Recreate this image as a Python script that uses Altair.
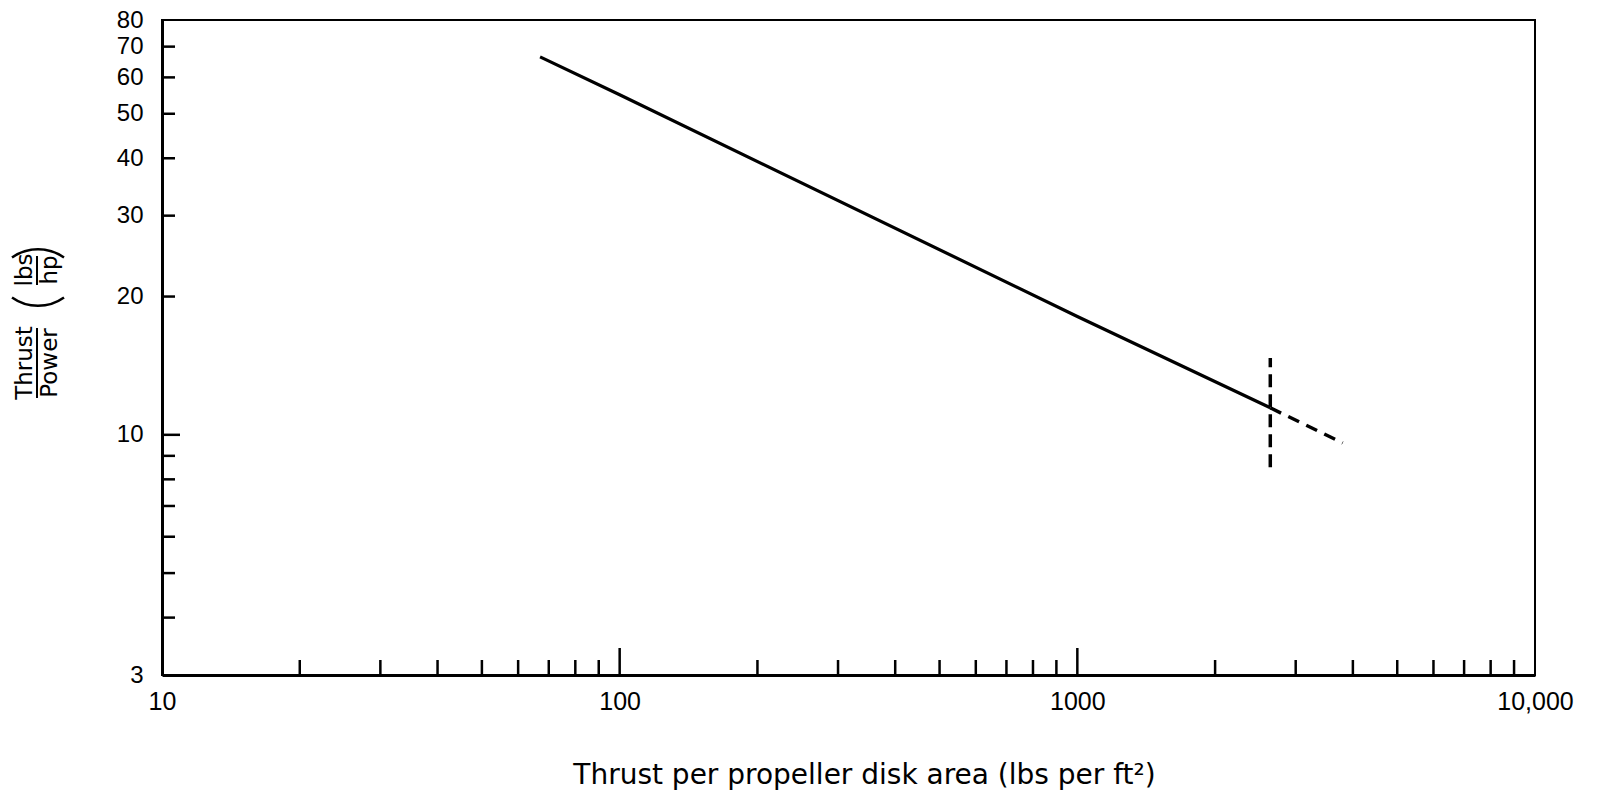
import math
import altair as alt
import pandas as pd

# ---- data ----
solid_x = [67, 100, 1000, 2640]
solid_y = [66.5, 55.0, 18.1, 11.45]
dash_x = [2640, 3800]
dash_y = [11.45, 9.6]
limit_x = 2640
limit_y = [8.5, 14.7]

x_label_values = [10, 100, 1000, 10000]
y_label_values = [3, 10, 20, 30, 40, 50, 60, 70, 80]
x_major_ticks = [100, 1000]
x_minor_ticks = [20, 30, 40, 50, 60, 70, 80, 90,
                 200, 300, 400, 500, 600, 700, 800, 900,
                 2000, 3000, 4000, 5000, 6000, 7000, 8000, 9000]
y_major_ticks = [10]
y_minor_ticks = [4, 5, 6, 7, 8, 9, 20, 30, 40, 50, 60, 70]

x_title = "Thrust per propeller disk area (lbs per ft²)"

W, H = 1373, 655
LABEL_FONT = "Liberation Sans"
TEXT_FONT = "DejaVu Sans"

xscale = alt.Scale(type="log", domain=[10, 10000], nice=False)
yscale = alt.Scale(type="log", domain=[3, 80], nice=False)

x_axis = alt.Axis(
    values=x_label_values,
    labelExpr="datum.value == 10000 ? '10,000' : format(datum.value, 'd')",
    title=x_title, ticks=False, tickSize=0, grid=False,
    domainColor="black", domainWidth=3,
    labelFont=LABEL_FONT, labelFontSize=25, labelColor="black",
    labelPadding=14, labelFlush=False, labelOverlap=False,
    titleFont=TEXT_FONT, titleFontSize=28, titleColor="black",
    titleFontWeight="normal", titleX=702, titleY=108,
    titleAlign="center", titleBaseline="alphabetic",
)
y_axis = alt.Axis(
    values=y_label_values, format="d", title=None,
    ticks=False, tickSize=0, grid=False,
    domainColor="black", domainWidth=3,
    labelFont=LABEL_FONT, labelFontSize=24, labelColor="black",
    labelPadding=19, labelFlush=False, labelOverlap=False,
)

X = alt.X("x:Q", scale=xscale, axis=x_axis)
Y = alt.Y("y:Q", scale=yscale, axis=y_axis)

solid = alt.Chart(pd.DataFrame({"x": solid_x, "y": solid_y})).mark_line(
    color="black", strokeWidth=3.2).encode(x=X, y=Y)
dash = alt.Chart(pd.DataFrame({"x": dash_x, "y": dash_y})).mark_line(
    color="black", strokeWidth=3.5, strokeDash=[12, 8]).encode(x=X, y=Y)
limit = alt.Chart(pd.DataFrame({"x": [limit_x] * len(limit_y), "y": limit_y})).mark_line(
    color="black", strokeWidth=3.5, strokeDash=[13, 7]).encode(x=X, y=Y, order="y:Q")

xt_minor = alt.Chart(pd.DataFrame({"x": x_minor_ticks})).mark_rule(
    color="black", strokeWidth=2.5).encode(x=X, y=alt.value(H), y2=alt.value(H - 15))
xt_major = alt.Chart(pd.DataFrame({"x": x_major_ticks})).mark_rule(
    color="black", strokeWidth=2.5).encode(x=X, y=alt.value(H), y2=alt.value(H - 27))
yt_minor = alt.Chart(pd.DataFrame({"y": y_minor_ticks})).mark_rule(
    color="black", strokeWidth=2.5).encode(y=Y, x=alt.value(0), x2=alt.value(13))
yt_major = alt.Chart(pd.DataFrame({"y": y_major_ticks})).mark_rule(
    color="black", strokeWidth=2.5).encode(y=Y, x=alt.value(0), x2=alt.value(18))


def label(s, x, y, size):
    return alt.Chart(pd.DataFrame({"t": [s]})).mark_text(
        angle=270, align="center", baseline="middle", font=TEXT_FONT,
        fontSize=size, color="black").encode(
        text="t:N", x=alt.value(x), y=alt.value(y))


def bar(x, y1, y2):
    return alt.Chart(pd.DataFrame({"t": [0]})).mark_rule(
        color="black", strokeWidth=2).encode(
        x=alt.value(x), y=alt.value(y1), y2=alt.value(y2))


def paren(x, y, top):
    # a flat arc standing for a rotated parenthesis
    half = 0.62
    base = 2 * math.pi if top else math.pi
    return alt.Chart(pd.DataFrame({"t": [0]})).mark_arc(
        theta=base - half, theta2=base + half, radius=46, radius2=43.5,
        color="black").encode(x=alt.value(x), y=alt.value(y))


ytitle = [
    label("Thrust", -137, 343, 23),
    label("Power", -112, 343, 23),
    bar(-125, 308, 378),
    label("lbs", -137, 250, 23),
    label("hp", -112, 250, 23),
    bar(-125, 236, 265),
    paren(-124, 228 + 46, True),
    paren(-124, 287 - 46, False),
]

chart = alt.layer(
    xt_minor, xt_major, yt_minor, yt_major, solid, dash, limit, *ytitle
).properties(
    width=W, height=H,
    autosize=alt.AutoSizeParams(type="none"),
    padding={"left": 162, "top": 20, "right": 72, "bottom": 125},
    background="white",
).configure_view(stroke="black", strokeWidth=2)

chart.save("out.html", embed_options={"renderer": "svg", "actions": False})
